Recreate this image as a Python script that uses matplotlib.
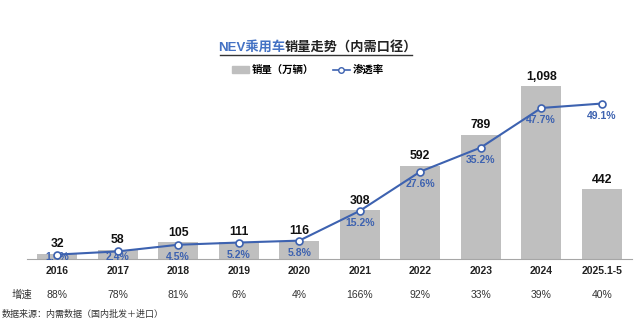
import numpy as np
import matplotlib.pyplot as plt
from matplotlib.lines import Line2D
from matplotlib.patches import Patch

plt.rcParams['font.family'] = ['Liberation Sans', 'Noto Sans CJK SC']

# data
years = ['2016', '2017', '2018', '2019', '2020', '2021', '2022', '2023', '2024', '2025.1-5']
sales = [32, 58, 105, 111, 116, 308, 592, 789, 1098, 442]
pen = [1.4, 2.4, 4.5, 5.2, 5.8, 15.2, 27.6, 35.2, 47.7, 49.1]
growth = ['88%', '78%', '81%', '6%', '4%', '166%', '92%', '33%', '39%', '40%']

blue = '#3D62B0'
grey = '#BFBFBF'

fig = plt.figure(figsize=(6.4, 3.23), dpi=100)
W, H = 640, 323
# axes: x 27..632 px, y 80..259 px
ax = fig.add_axes([27 / W, 1 - 259 / H, 605 / W, 179 / H])
x = np.arange(len(years))
ax.bar(x, sales, width=0.66, color=grey, zorder=1)
ax.set_xlim(-0.5, len(years) - 0.5)
ax.set_ylim(0, 1098 / 173 * 179)
for xi, v in zip(x, sales):
    ax.annotate(f'{v:,}', (xi, v), xytext=(0, 2.5), textcoords='offset points',
                ha='center', va='bottom', fontsize=8.8, fontweight='bold', color='#111111')

ax2 = ax.twinx()
ax2.set_ylim(0, 179 / 3.166)
ax2.plot(x, pen, color=blue, lw=1.5, marker='o', ms=5, mfc='white', mec=blue, mew=1.2, zorder=3)
# labels sit ~12px under the point, but never below the baseline strip
for xi, p in zip(x, pen):
    ax2.text(xi, max(p - 3.8, 0.6), f'{p}%', ha='center', va='center',
             fontsize=7.5, fontweight='bold', color=blue, zorder=2)

for a in (ax, ax2):
    a.set_yticks([])
    for s in ['top', 'right', 'left']:
        a.spines[s].set_visible(False)
ax2.spines['bottom'].set_visible(False)
ax.spines['bottom'].set_color('#A6A6A6')
ax.set_xticks(x)
ax.set_xticklabels(years, fontsize=7.5, fontweight='bold', color='#222222')
ax.tick_params(axis='x', length=0, pad=5)

# growth row
for xi, g in zip(x, growth):
    ax.annotate(g, (xi, 0), xytext=(0, -26), textcoords='offset points',
                xycoords=('data', 'axes fraction'),
                ha='center', va='center', fontsize=7.5, color='#333333')
fig.text(12 / W, 1 - 295 / H, '增速', ha='left', va='center', fontsize=7.5, color='#333333')
fig.text(2 / W, 1 - 314 / H, '数据来源：内需数据（国内批发＋进口）', ha='left', va='center',
         fontsize=6.5, color='#333333')

# title
fig.text(285 / W, 1 - 47 / H, 'NEV乘用车', ha='right', va='center', fontsize=9.5,
         fontweight='bold', color='#4472C4')
fig.text(285 / W, 1 - 47 / H, '销量走势（内需口径）', ha='left', va='center', fontsize=9.5,
         fontweight='bold', color='#222222')
fig.add_artist(Line2D([220 / W, 412 / W], [1 - 55 / H, 1 - 55 / H], color='#333333', lw=1))

# legend
handles = [Patch(color=grey, label='销量（万辆）'),
           Line2D([], [], color=blue, lw=1.2, marker='o', ms=4, mfc='white', mec=blue, label='渗透率')]
fig.legend(handles=handles, loc='center', bbox_to_anchor=(308 / W, 1 - 70 / H), ncol=2,
           frameon=False, handlelength=1.6, handletextpad=0.3, columnspacing=1.8,
           prop={'weight': 'bold', 'size': 7.5})

fig.savefig('out.png', dpi=100)
